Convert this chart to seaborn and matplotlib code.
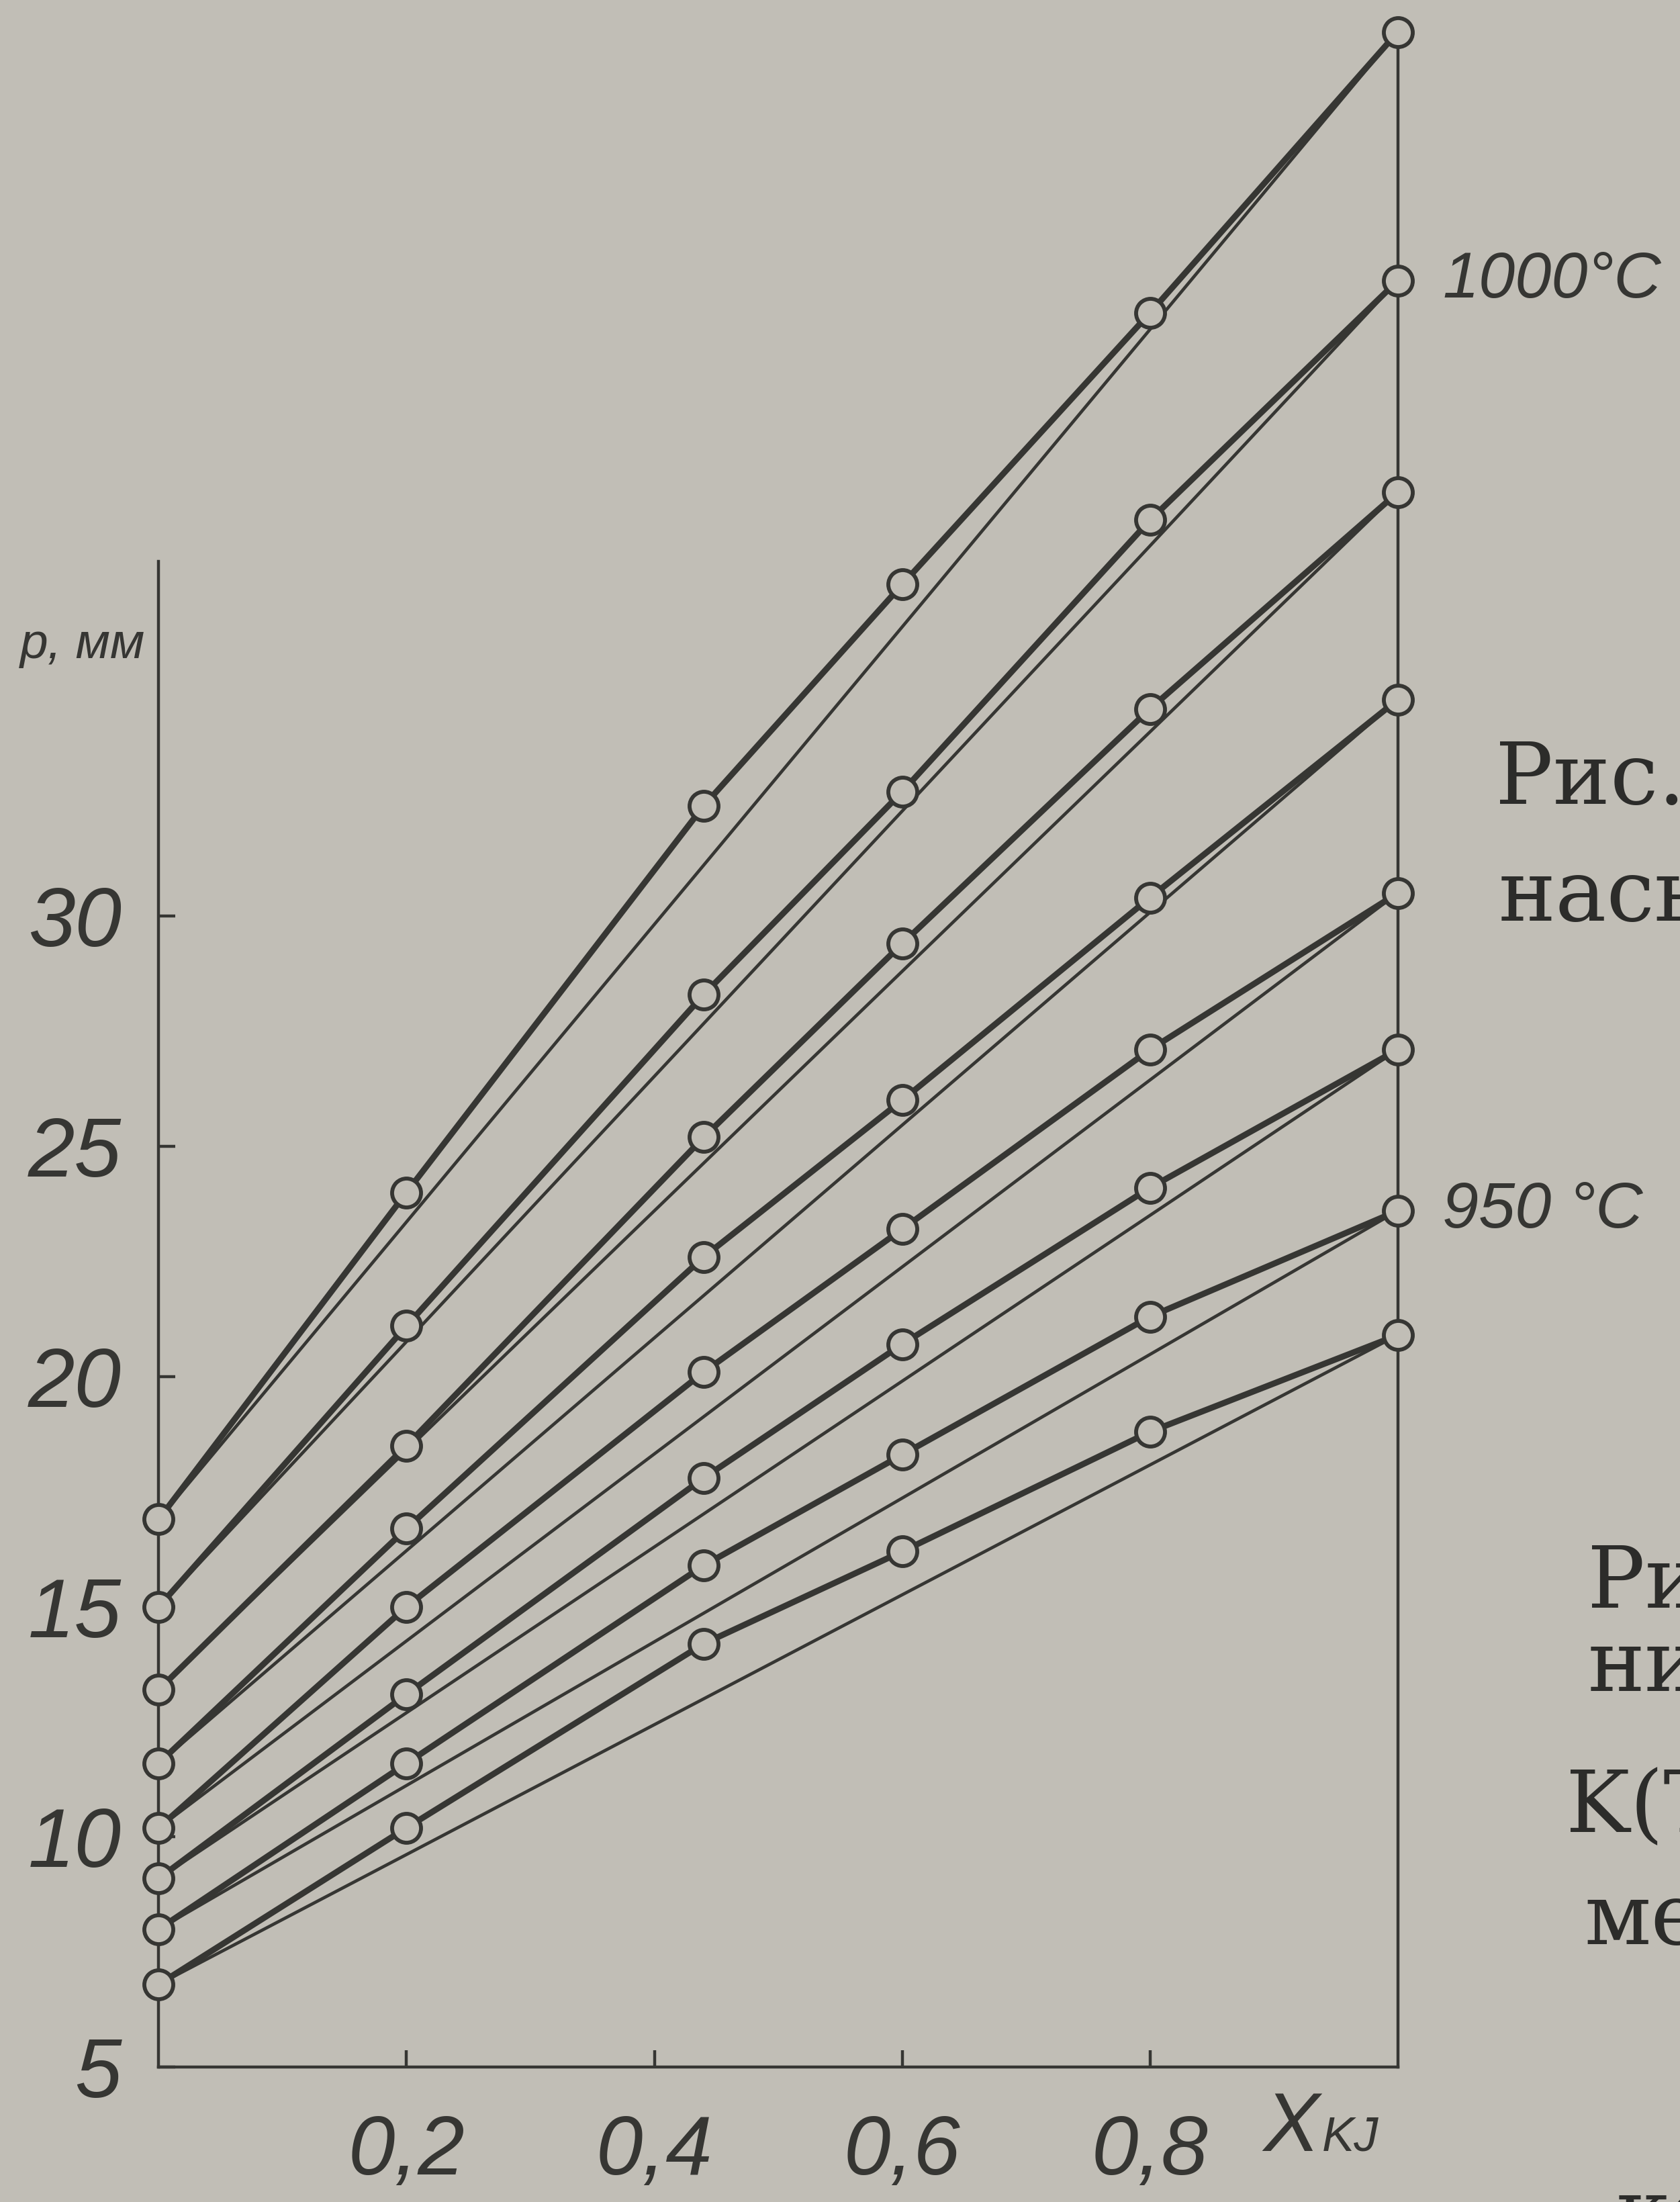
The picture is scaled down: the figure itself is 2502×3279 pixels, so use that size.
import numpy as np
import pandas as pd
import matplotlib
matplotlib.use('Agg')
import matplotlib.pyplot as plt
import seaborn as sns

# Composition points on the x axis (mole fraction KJ)
X_KJ = [0.0, 0.2, 0.44, 0.6, 0.8, 1.0]

# Isotherms, top to bottom (p, mm)
TEMPS = [1010, 1000, 990, 980, 970, 960, 950, 940]
P_1010 = [16.9, 24.0, 32.4, 37.2, 43.1, 49.2]
P_1000 = [15.0, 21.1, 28.3, 32.7, 38.6, 43.8]
P_990 = [13.2, 18.5, 25.2, 29.4, 34.5, 39.2]
P_980 = [11.6, 16.7, 22.6, 26.0, 30.4, 34.7]
P_970 = [10.2, 15.0, 20.1, 23.2, 27.1, 30.5]
P_960 = [9.1, 13.1, 17.8, 20.7, 24.1, 27.1]
P_950 = [8.0, 11.6, 15.9, 18.3, 21.3, 23.6]
P_940 = [6.8, 10.2, 14.2, 16.2, 18.8, 20.9]
CURVES = [P_1010, P_1000, P_990, P_980, P_970, P_960, P_950, P_940]

LABELLED = {1000: '1000°C', 950: '950 °C'}

Y_TICKS = [5, 10, 15, 20, 25, 30]
Y_TICK_LABELS = ['5', '10', '15', '20', '25', '30']
X_TICKS = [0.2, 0.4, 0.6, 0.8]
X_TICK_LABELS = ['0,2', '0,4', '0,6', '0,8']

BG = '#c1beb6'
INK = '#363633'
HAND = ['Liberation Sans Narrow', 'Liberation Sans', 'DejaVu Sans']
SERIF = ['DejaVu Serif', 'Liberation Serif']

sns.set_theme(style='ticks', rc={'axes.facecolor': BG, 'figure.facecolor': BG})
plt.rcParams['font.family'] = HAND

fig = plt.figure(figsize=(25.02, 32.79), dpi=100)
fig.patch.set_facecolor(BG)
ax = fig.add_axes([0.0945, 0.0612, 0.832 - 0.0945, 0.998 - 0.0612])
ax.set_facecolor('none')

# long table for the measured curves
df = pd.DataFrame({
    'x': X_KJ * len(TEMPS),
    'p': [v for c in CURVES for v in c],
    'temp': [t for t in TEMPS for _ in X_KJ],
})

# thin straight lines joining the pure-component ends
for t in TEMPS:
    sub = df[df['temp'] == t]
    ends = sub.iloc[[0, -1]]
    sns.lineplot(data=ends, x='x', y='p', ax=ax, color=INK, lw=3.4,
                 sort=False, legend=False, zorder=2)

# measured curves with open circles
for t in TEMPS:
    sub = df[df['temp'] == t]
    sns.lineplot(data=sub, x='x', y='p', ax=ax, color=INK, lw=6.5,
                 marker='o', markersize=31, markerfacecolor=BG,
                 markeredgecolor=INK, markeredgewidth=4.2,
                 legend=False, clip_on=False, zorder=4)
    if t in LABELLED:
        last = sub.iloc[-1]
        ax.annotate(LABELLED[t], (last['x'], last['p']), xytext=(48, 0),
                    textcoords='offset points', va='center', ha='left',
                    fontsize=70, fontstyle='italic', color=INK, family=HAND)

ax.set_xlim(0, 1)
ax.set_ylim(5, 49.8)
ax.set_xticks(X_TICKS)
ax.set_xticklabels(X_TICK_LABELS)
ax.set_yticks(Y_TICKS)
ax.set_yticklabels(Y_TICK_LABELS)
ax.tick_params(axis='both', direction='in', length=18, width=3.2, color=INK,
               labelsize=90, labelcolor=INK)
ax.tick_params(axis='x', pad=50)
ax.tick_params(axis='y', pad=40)
for lab in ax.get_xticklabels() + ax.get_yticklabels():
    lab.set_fontstyle('italic')
    lab.set_family(HAND)
ax.set_xlabel('')
ax.set_ylabel('')

for side in ['left', 'bottom', 'right']:
    ax.spines[side].set_color(INK)
    ax.spines[side].set_linewidth(3.2)
ax.spines['top'].set_visible(False)
ax.spines['left'].set_bounds(5, 37.7)
ax.spines['right'].set_bounds(5, P_1010[-1])

# axis titles
fig.text(0.012, 0.707, 'p, мм', fontsize=54, fontstyle='italic', color=INK,
         family=HAND, va='center', ha='left')
fig.text(0.752, 0.033, 'X', fontsize=90, fontstyle='italic', color=INK,
         family=HAND, va='center', ha='left')
fig.text(0.787, 0.029, 'KJ', fontsize=52, fontstyle='italic', color=INK,
         family=HAND, va='center', ha='left')

# fragments of the book caption at the page edge
page = [
    (0.890, 0.635, 'Рис. 2'),
    (0.892, 0.582, 'насыщ'),
    (0.945, 0.270, 'Рис'),
    (0.945, 0.232, 'ния'),
    (0.932, 0.168, 'K(T'),
    (0.943, 0.117, 'мет'),
    (0.962, -0.017, 'ко'),
]
for px, py, s in page:
    fig.text(px, py, s, fontsize=92, color='#2c2c2a', family=SERIF,
             va='baseline', ha='left')

fig.savefig('out.png', dpi=100, facecolor=BG)
